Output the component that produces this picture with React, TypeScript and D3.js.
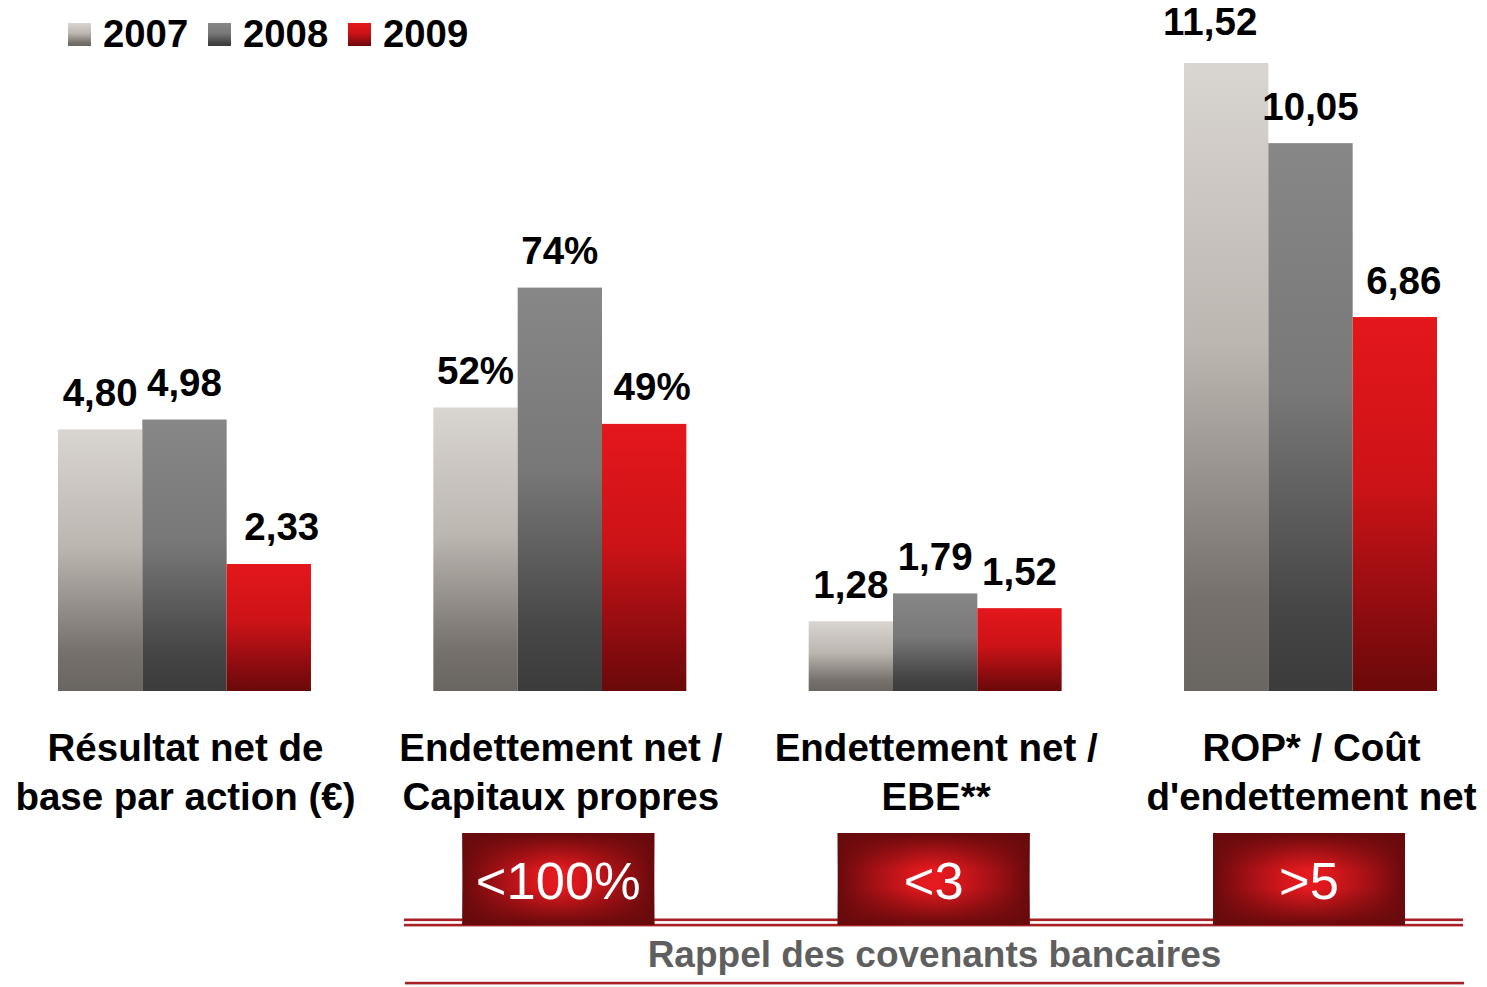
import React from 'react';
import * as d3 from 'd3';

// chart data
const years = ['2007', '2008', '2009'];
const categories = [
    ['Résultat net de', 'base par action (€)'],
    ['Endettement net /', 'Capitaux propres'],
    ['Endettement net /', 'EBE**'],
    ['ROP* / Coût', "d'endettement net"],
];
const isPercent = [false, true, false, false];
const values2007 = [4.80, 52, 1.28, 11.52];
const values2008 = [4.98, 74, 1.79, 10.05];
const values2009 = [2.33, 49, 1.52, 6.86];
const covenants = ['', '<100%', '<3', '>5'];
const covenantTitle = 'Rappel des covenants bancaires';

const series = [values2007, values2008, values2009];

// small manual label nudges (px), [series][category], like the original slide
const labelDx = [
    [0, 0, 0, -16],
    [0, 0, 0, 0],
    [13, 8, 0, 9],
];

const gradients = [
    { id: 'g2007', stops: ['#d9d5d1', '#bcb6b1', '#76716d', '#696561'] },
    { id: 'g2008', stops: ['#878787', '#787878', '#464646', '#3b3b3b'] },
    { id: 'g2009', stops: ['#e4171b', '#cc1317', '#840b0e', '#6a0909'] },
];

const W = 1487;
const H = 987;
const FONT = '"Liberation Sans", Arial, sans-serif';
const baseY = 691;

const x0 = d3.scaleBand<number>()
    .domain(d3.range(categories.length))
    .range([58, 1437])
    .paddingInner(0.326)
    .paddingOuter(0);

const x1 = d3.scaleBand<number>()
    .domain(d3.range(years.length))
    .range([0, x0.bandwidth()]);

const y = d3.scaleLinear()
    .domain([0, 11.52])
    .range([baseY, 63]);

const plotValue = (v: number, i: number) => (isPercent[i] ? v / 10 : v);
const fmt = (v: number, i: number) =>
    isPercent[i] ? `${v}%` : d3.format('.2f')(v).replace('.', ',');
const maxPlot = d3.max(series.flatMap(s => s.map(plotValue)))!;

function CovenantBox({ cx, text }: { cx: number; text: string }) {
    const w = 192;
    const h = 92;
    const left = cx - w / 2;
    const top = 833;
    return (
        <g>
            <rect x={left} y={top} width={w} height={h} fill="url(#covH)" />
            <rect x={left} y={top} width={w} height={h} fill="url(#covV)" />
            <text x={cx} y={899} textAnchor="middle" fill="#fff" fontSize={52.5}
                fontFamily={FONT}>{text}</text>
        </g>
    );
}

export default function App() {
    return (
        <svg width={W} height={H} style={{ position: 'absolute', left: 0, top: 0, background: '#fff' }}>
            <defs>
                {gradients.map(g => (
                    <linearGradient key={g.id} id={g.id} x1="0" y1="0" x2="0" y2="1">
                        <stop offset="0" stopColor={g.stops[0]} />
                        <stop offset="0.45" stopColor={g.stops[1]} />
                        <stop offset="0.85" stopColor={g.stops[2]} />
                        <stop offset="1" stopColor={g.stops[3]} />
                    </linearGradient>
                ))}
                <linearGradient id="covH" x1="0" y1="0" x2="1" y2="0">
                    <stop offset="0" stopColor="#680a0c" />
                    <stop offset="0.2" stopColor="#a51116" />
                    <stop offset="0.4" stopColor="#dc181d" />
                    <stop offset="0.5" stopColor="#e61b20" />
                    <stop offset="0.6" stopColor="#dc181d" />
                    <stop offset="0.8" stopColor="#a51116" />
                    <stop offset="1" stopColor="#680a0c" />
                </linearGradient>
                <linearGradient id="covV" x1="0" y1="0" x2="0" y2="1">
                    <stop offset="0" stopColor="#680a0c" stopOpacity="1" />
                    <stop offset="0.4" stopColor="#680a0c" stopOpacity="0" />
                    <stop offset="0.6" stopColor="#680a0c" stopOpacity="0" />
                    <stop offset="1" stopColor="#680a0c" stopOpacity="1" />
                </linearGradient>
            </defs>

            {/* legend */}
            {years.map((yr, i) => (
                <g key={yr} transform={`translate(${68 + i * 140},23)`}>
                    <rect width={23} height={23} fill={`url(#${gradients[i].id})`} />
                    <text x={35} y={24} fontSize={38.3} fontWeight="bold" fontFamily={FONT}>{yr}</text>
                </g>
            ))}

            {/* bars */}
            {categories.map((cat, ci) => (
                <g key={ci} transform={`translate(${x0(ci)},0)`}>
                    {series.map((s, si) => {
                        const v = plotValue(s[ci], ci);
                        const bx = x1(si)!;
                        const off = v === maxPlot ? 28.5 : 23.5;
                        return (
                            <g key={si}>
                                <rect x={bx} y={y(v)} width={x1.bandwidth()} height={baseY - y(v)}
                                    fill={`url(#${gradients[si].id})`} />
                                <text x={bx + x1.bandwidth() / 2 + labelDx[si][ci]} y={y(v) - off} textAnchor="middle"
                                    fontSize={38.5} fontWeight="bold" fontFamily={FONT}>{fmt(s[ci], ci)}</text>
                            </g>
                        );
                    })}
                    {cat.map((line, li) => (
                        <text key={li} x={x0.bandwidth() / 2 + 1} y={761 + li * 49} textAnchor="middle"
                            fontSize={38.5} fontWeight="bold" fontFamily={FONT}>{line}</text>
                    ))}
                </g>
            ))}

            {/* covenants */}
            <rect x={404} y={918.5} width={1059} height={2.6} fill="#a81f25" />
            <rect x={404} y={923.8} width={1059} height={2.6} fill="#a81f25" />
            {covenants.map((c, ci) => c ? (
                <CovenantBox key={ci} cx={x0(ci)! + x0.bandwidth() / 2 - 1.5} text={c} />
            ) : null)}
            <text x={934.5} y={967} textAnchor="middle" fontSize={37} fontWeight="bold"
                fill="#5f5f5f" fontFamily={FONT}>{covenantTitle}</text>
            <rect x={405} y={981.8} width={1059} height={2.6} fill="#a81f25" />
        </svg>
    );
}
